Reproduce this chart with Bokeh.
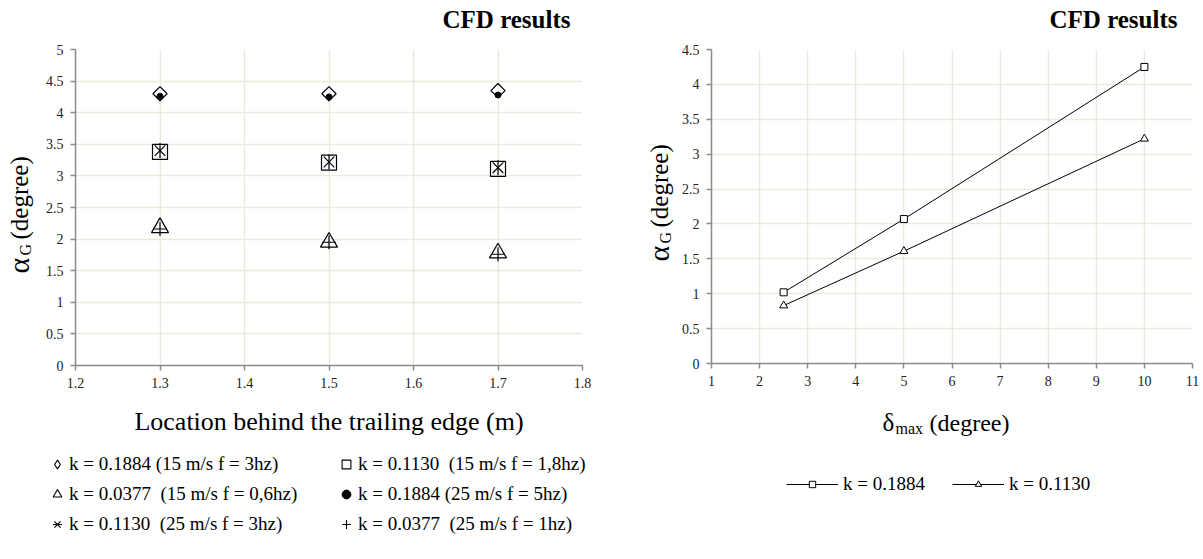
import math
from bokeh.plotting import figure
from bokeh.layouts import row, column
from bokeh.models import (ColumnDataSource, FixedTicker, Legend, LegendItem, Label, Range1d)
from bokeh.embed import file_html
from bokeh.resources import INLINE

# ---------------- data: left chart ----------------
locations = [1.3, 1.5, 1.7]
k1884_15ms = [4.30, 4.30, 4.35]
k1130_15ms = [3.38, 3.21, 3.11]
k0377_15ms = [2.18, 1.95, 1.78]
k1884_25ms = [4.26, 4.25, 4.28]
k1130_25ms = [3.40, 3.22, 3.13]
k0377_25ms = [2.16, 1.95, 1.76]
left_x_ticks = [1.2, 1.3, 1.4, 1.5, 1.6, 1.7, 1.8]
left_x_labels = ["1.2", "1.3", "1.4", "1.5", "1.6", "1.7", "1.8"]
left_y_ticks = [0, 0.5, 1, 1.5, 2, 2.5, 3, 3.5, 4, 4.5, 5]
left_y_labels = ["0", "0.5", "1", "1.5", "2", "2.5", "3", "3.5", "4", "4.5", "5"]
left_legend_labels = [
    "k = 0.1884 (15 m/s f = 3hz)",
    "k = 0.1130  (15 m/s f = 1,8hz)",
    "k = 0.0377  (15 m/s f = 0,6hz)",
    "k = 0.1884 (25 m/s f = 5hz)",
    "k = 0.1130  (25 m/s f = 3hz)",
    "k = 0.0377  (25 m/s f = 1hz)",
]
left_x_title = "Location behind the trailing edge (m)"

# ---------------- data: right chart ----------------
delta_max = [2.5, 5, 10]
k1884 = [1.02, 2.07, 4.25]
k1130 = [0.83, 1.61, 3.22]
right_x_ticks = [1, 2, 3, 4, 5, 6, 7, 8, 9, 10, 11]
right_x_labels = ["1", "2", "3", "4", "5", "6", "7", "8", "9", "10", "11"]
right_y_ticks = [0, 0.5, 1, 1.5, 2, 2.5, 3, 3.5, 4, 4.5]
right_y_labels = ["0", "0.5", "1", "1.5", "2", "2.5", "3", "3.5", "4", "4.5"]
right_legend_labels = ["k = 0.1884", "k = 0.1130"]

title_text = "CFD results"
y_title = ["α", "G", "(degree)"]
x_title_right = ["δ", "max", "(degree)"]

FONT = "Liberation Serif"
AXIS_COLOR = "#8a8a8a"
GRID_COLOR = "#ECE9DE"
NAN = float("nan")


def style(p, xt, xl, yt, yl):
    p.xaxis.ticker = FixedTicker(ticks=xt)
    p.yaxis.ticker = FixedTicker(ticks=yt)
    p.xaxis.major_label_overrides = dict(zip(xt, xl))
    p.yaxis.major_label_overrides = dict(zip(yt, yl))
    for ax in (p.xaxis[0], p.yaxis[0]):
        ax.axis_line_color = AXIS_COLOR
        ax.axis_line_width = 1.5
        ax.major_tick_line_color = AXIS_COLOR
        ax.major_tick_line_width = 1.5
        ax.major_tick_in = 0
        ax.major_tick_out = 5
        ax.minor_tick_line_color = None
        ax.major_label_text_font = FONT
        ax.major_label_text_font_size = "14px"
        ax.major_label_text_color = "#222222"
        ax.major_label_standoff = 7
    p.grid.grid_line_color = GRID_COLOR
    p.grid.grid_line_width = 1.5
    p.outline_line_color = None
    p.background_fill_color = "white"
    p.border_fill_color = "white"
    p.title.text = ""
    p.title.visible = False


def blank(w, h):
    f = figure(width=w, height=h, output_backend="svg", toolbar_location=None,
               x_axis_location=None, y_axis_location=None, frame_align=False,
               x_range=Range1d(0, 1), y_range=Range1d(0, 1),
               min_border_left=0, min_border_right=0, min_border_top=0, min_border_bottom=0)
    f.grid.visible = False
    f.outline_line_color = None
    f.background_fill_color = "white"
    f.border_fill_color = "white"
    f.title.visible = False
    return f


def scr_label(f, x, y, text, size, angle=0.0, baseline="alphabetic", align="left",
              style="normal"):
    f.add_layout(Label(x=x, y=y, x_units="screen", y_units="screen", text=text,
                       angle=angle, text_baseline=baseline, text_align=align,
                       text_font=FONT, text_font_size=size, text_font_style=style,
                       text_color="black"))


def ylabel(f, xc, y0):
    scr_label(f, xc - 1, y0, y_title[0], "30px", math.pi / 2, "middle")
    scr_label(f, xc + 6, y0 + 18, y_title[1], "16px", math.pi / 2, "middle")
    scr_label(f, xc, y0 + 34, y_title[2], "25px", math.pi / 2, "middle")


def legend_box(f, items, **kw):
    leg = Legend(items=items, padding=0, margin=0, label_text_font=FONT,
                 label_text_font_size="19px", label_text_color="black",
                 border_line_color=None, background_fill_alpha=0, **kw)
    f.add_layout(leg)


TOP_H = 42

# ---------------- left chart ----------------
top1 = blank(600, TOP_H)
scr_label(top1, 570, TOP_H - 19, title_text, "25px", baseline="middle", align="right",
          style="bold")

yl1 = blank(40, 445 - TOP_H)
ylabel(yl1, 19, 172)

p1 = figure(width=560, height=445 - TOP_H, output_backend="svg", toolbar_location=None,
            frame_align=False, x_range=Range1d(1.2, 1.8), y_range=Range1d(0, 5),
            min_border_left=35, min_border_right=18, min_border_top=49 - TOP_H,
            min_border_bottom=80)
style(p1, left_x_ticks, left_x_labels, left_y_ticks, left_y_labels)
p1.xaxis.axis_label = left_x_title
p1.xaxis.axis_label_text_font = FONT
p1.xaxis.axis_label_text_font_size = "26px"
p1.xaxis.axis_label_text_font_style = "normal"
p1.xaxis.axis_label_text_color = "black"
p1.xaxis.axis_label_standoff = 16

src = ColumnDataSource(dict(x=locations, a=k1884_15ms, b=k1130_15ms, c=k0377_15ms,
                            d=k1884_25ms, e=k1130_25ms, f=k0377_25ms))
mk = dict(source=src, line_color="black", line_width=1.2, fill_color=None)
p1.scatter("x", "c", marker="triangle", size=17, **mk)
p1.scatter("x", "f", marker="cross", size=14, **mk)
p1.scatter("x", "b", marker="square", size=15, **mk)
p1.scatter("x", "e", marker="x", size=15, **mk)
p1.scatter("x", "e", marker="dash", angle=math.pi / 2, size=15, **mk)
p1.scatter("x", "a", marker="square", angle=math.pi / 4, size=10, **mk)
p1.scatter("x", "d", marker="circle", size=6, source=src, line_color="black",
           fill_color="black")

# legend area under the left chart
bot1 = blank(600, 114)
gk = dict(line_color="black", line_width=1.1, fill_color=None)
g_dia = bot1.scatter([NAN], [NAN], marker="diamond", **gk)
g_sq = bot1.scatter([NAN], [NAN], marker="square", **gk)
g_tri = bot1.scatter([NAN], [NAN], marker="triangle", **gk)
g_dot = bot1.scatter([NAN], [NAN], marker="circle", line_color="black", fill_color="black")
g_x = bot1.scatter([NAN], [NAN], marker="x", **gk)
g_xv = bot1.scatter([NAN], [NAN], marker="dash", angle=math.pi / 2, **gk)
g_plus = bot1.scatter([NAN], [NAN], marker="cross", **gk)
legend_box(bot1, [
    LegendItem(label=left_legend_labels[0], renderers=[g_dia]),
    LegendItem(label=left_legend_labels[1], renderers=[g_sq]),
    LegendItem(label=left_legend_labels[2], renderers=[g_tri]),
    LegendItem(label=left_legend_labels[3], renderers=[g_dot]),
    LegendItem(label=left_legend_labels[4], renderers=[g_x, g_xv]),
    LegendItem(label=left_legend_labels[5], renderers=[g_plus]),
], location=(46, 24), orientation="horizontal", ncols=2,
    glyph_width=22, glyph_height=22, label_height=22, label_width=258,
    label_standoff=1, spacing=8)

# ---------------- right chart ----------------
top2 = blank(603, TOP_H)
scr_label(top2, 577, TOP_H - 19, title_text, "25px", baseline="middle", align="right",
          style="bold")

yl2 = blank(75, 400 - TOP_H)
ylabel(yl2, 59, 139)

p2 = figure(width=528, height=400 - TOP_H, output_backend="svg", toolbar_location=None,
            frame_align=False, x_range=Range1d(1, 11), y_range=Range1d(0, 4.5),
            min_border_left=36, min_border_right=11, min_border_top=49 - TOP_H,
            min_border_bottom=37)
style(p2, right_x_ticks, right_x_labels, right_y_ticks, right_y_labels)

p2.line(delta_max, k1884, line_color="black", line_width=1)
p2.scatter(delta_max, k1884, marker="square", size=7, line_color="black",
           fill_color="white", line_width=1)
p2.line(delta_max, k1130, line_color="black", line_width=1)
p2.scatter(delta_max, k1130, marker="triangle", size=8, line_color="black",
           fill_color="white", line_width=1)

# area under the right chart: x title and legend
bot2 = blank(603, 159)
scr_label(bot2, 282, 137, x_title_right[0], "25px")
scr_label(bot2, 295, 131, x_title_right[1], "16px")
scr_label(bot2, 329, 137, x_title_right[2], "24px")

g1 = bot2.line([NAN], [NAN], line_color="black", line_width=1)
gs1 = bot2.scatter([NAN], [NAN], marker="square", line_color="black", fill_color="white")
g2 = bot2.line([NAN], [NAN], line_color="black", line_width=1)
gs2 = bot2.scatter([NAN], [NAN], marker="triangle", line_color="black", fill_color="white")
legend_box(bot2, [
    LegendItem(label=right_legend_labels[0], renderers=[g1, gs1]),
    LegendItem(label=right_legend_labels[1], renderers=[g2, gs2]),
], location=(186, 64), orientation="horizontal",
    glyph_width=52, glyph_height=16, label_height=20, label_standoff=5, spacing=27)

layout = row(column(top1, row(yl1, p1), bot1), column(top2, row(yl2, p2), bot2))
open("out.html", "w").write(file_html(layout, INLINE))
